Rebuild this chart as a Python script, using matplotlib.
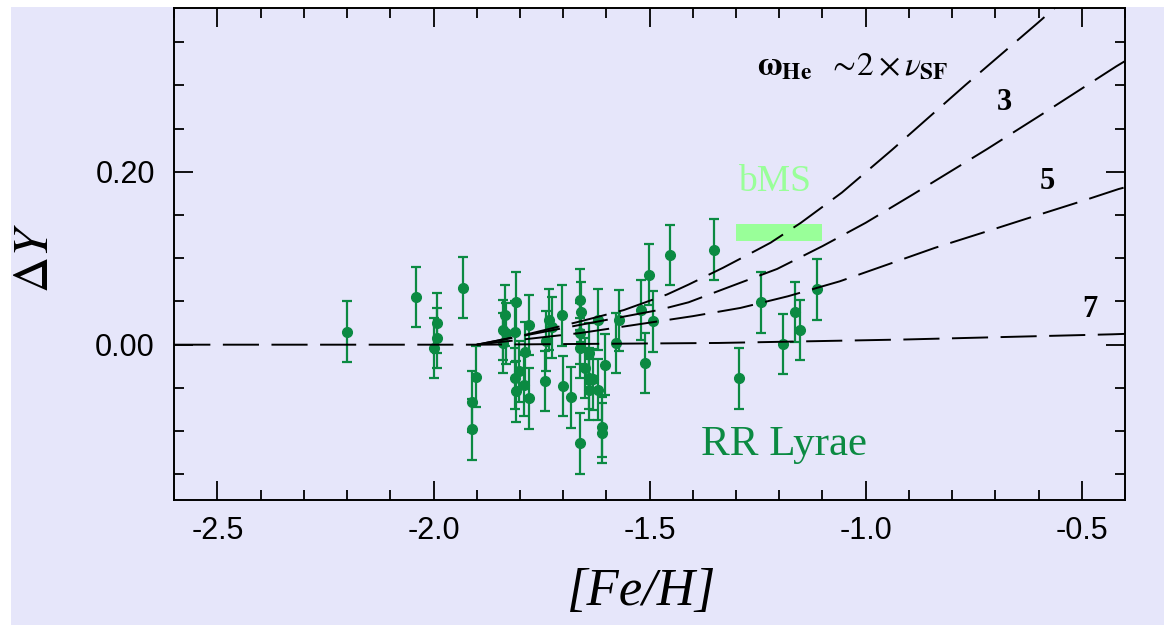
import matplotlib
matplotlib.use("Agg")
import matplotlib.pyplot as plt
from matplotlib.ticker import MultipleLocator, FormatStrFormatter
from matplotlib.patches import Rectangle

# RR Lyrae points: [Fe/H], Delta Y (error bars are all about 0.035)
feh = [-2.200, -2.040, -1.992, -1.992, -2.000, -1.931, -1.902, -1.911, -1.911,
       -1.840, -1.839, -1.832, -1.835, -1.809, -1.811, -1.780, -1.788, -1.802,
       -1.811, -1.809, -1.790, -1.780,
       -1.742, -1.732, -1.740, -1.702, -1.701, -1.725, -1.681,
       -1.660, -1.660, -1.660, -1.660, -1.658, -1.641, -1.641, -1.641, -1.620,
       -1.620, -1.610, -1.610, -1.603, -1.650, -1.632, -1.578, -1.571,
       -1.520, -1.501, -1.492, -1.511, -1.453, -1.351, -1.293, -1.243, -1.192,
       -1.163, -1.153, -1.113]
dy = [0.015, 0.055, 0.025, 0.008, -0.004, 0.066, -0.037, -0.066, -0.098,
      0.017, 0.002, 0.013, 0.034, 0.049, 0.015, 0.023, -0.009, -0.031,
      -0.039, -0.054, -0.047, -0.062,
      -0.042, 0.029, 0.004, 0.034, -0.048, 0.020, -0.061,
      0.052, 0.013, -0.004, -0.114, 0.038, -0.010, -0.039, -0.052, -0.052,
      0.029, -0.095, -0.102, -0.023, -0.027, -0.040, 0.002, 0.028,
      0.040, 0.081, 0.027, -0.021, 0.104, 0.110, -0.039, 0.049, 0.001,
      0.038, 0.017, 0.064]
dy_err = 0.035

# model curves, labelled by omega_He / nu_SF
c2_feh = [-1.90, -1.80, -1.66, -1.56, -1.46, -1.41, -1.33, -1.25, -1.22, -1.15,
          -1.055, -0.94, -0.77, -0.60, -0.55]
c2_dy = [0.0, 0.010, 0.027, 0.040, 0.058, 0.0695, 0.089, 0.110, 0.118, 0.141,
         0.176, 0.225, 0.300, 0.373, 0.395]
c3_feh = [-1.90, -1.66, -1.48, -1.41, -1.32, -1.205, -1.10, -1.00, -0.89,
          -0.79, -0.72, -0.60, -0.42, -0.40]
c3_dy = [0.0, 0.023, 0.040, 0.049, 0.066, 0.0876, 0.114, 0.141, 0.174,
         0.2046, 0.226, 0.264, 0.322, 0.328]
c5_feh = [-1.90, -1.66, -1.48, -1.40, -1.29, -1.18, -1.06, -0.95, -0.84,
          -0.72, -0.61, -0.50, -0.415, -0.40]
c5_dy = [0.0, 0.0135, 0.027, 0.033, 0.0425, 0.056, 0.0733, 0.0926, 0.112,
         0.131, 0.1486, 0.166, 0.180, 0.182]
c7_feh = [-2.60, -1.90, -1.34, -0.91, -0.43, -0.40]
c7_dy = [0.0, 0.0, 0.002, 0.006, 0.012, 0.0125]

# blue main sequence range
bms_feh = [-1.30, -1.10]
bms_dy = [0.12, 0.14]

lav = "#e6e6fa"
green = "#0b8a42"

plt.rcParams["lines.scale_dashes"] = False
plt.rcParams["mathtext.fontset"] = "stix"

fig = plt.figure(figsize=(11.64, 6.25), dpi=100)
fig.patch.set_facecolor("white")
fig.patches.append(Rectangle((11 / 1164, 0), 1, 618 / 625, transform=fig.transFigure,
                             facecolor=lav, edgecolor="none", zorder=-10))
ax = fig.add_axes([0.1497, 0.1995, 0.8168, 0.7885])
ax.set_facecolor(lav)

ax.errorbar(feh, dy, yerr=dy_err, fmt="o", color=green, ms=7, elinewidth=1.6,
            capsize=3.5, capthick=1.6, zorder=2)

ax.fill_between(bms_feh, bms_dy[0], bms_dy[1], color="#99ff99", lw=0, zorder=1)

for xs, ys in [(c2_feh, c2_dy), (c3_feh, c3_dy), (c5_feh, c5_dy), (c7_feh, c7_dy)]:
    ax.plot(xs, ys, color="black", lw=1.4, dashes=(26, 9), zorder=3)

ax.set_xlim(-2.6, -0.4)
ax.set_ylim(-0.18, 0.39)

ax.text(-1.21, 0.189, "bMS", color="#99ff99", fontsize=27,
        family="Liberation Serif", ha="center", va="center")
ax.text(-1.19, -0.116, "RR Lyrae", color=green, fontsize=31,
        family="Liberation Serif", ha="center", va="center")
ax.text(-1.252, 0.313, r"$\mathbf{\omega}_{\mathbf{He}}\ \ \sim\!2\times\nu_{\mathbf{SF}}$",
        fontsize=24, ha="left", va="baseline")
for lab, x, y in [("3", -0.679, 0.280), ("5", -0.580, 0.189), ("7", -0.481, 0.0405)]:
    ax.text(x, y, lab, fontsize=22, fontweight="bold", family="Liberation Serif",
            ha="center", va="center")

ax.xaxis.set_major_locator(MultipleLocator(0.5))
ax.xaxis.set_minor_locator(MultipleLocator(0.1))
ax.yaxis.set_major_locator(MultipleLocator(0.2))
ax.yaxis.set_minor_locator(MultipleLocator(0.05))
ax.xaxis.set_major_formatter(FormatStrFormatter("%.1f"))
ax.yaxis.set_major_formatter(FormatStrFormatter("%.2f"))
ax.tick_params(which="both", direction="in", top=True, right=True, width=1.3)
ax.tick_params(which="major", length=14)
ax.tick_params(which="minor", length=7)
ax.tick_params(axis="x", pad=11, labelsize=22)
ax.tick_params(axis="y", pad=14, labelsize=22)
for lab in ax.get_xticklabels() + ax.get_yticklabels():
    lab.set_family("Liberation Sans")
for sp in ax.spines.values():
    sp.set_linewidth(1.4)

ax.set_xlabel("[Fe/H]", fontsize=38, family="Liberation Serif", style="italic")
ax.xaxis.set_label_coords(0.492, -0.186)
ax.xaxis.label.set_va("center")
ax.set_ylabel(r"$\Delta Y$", fontsize=36)
ax.yaxis.set_label_coords(-0.1476, 0.4917)
ax.yaxis.label.set_va("center")

fig.savefig("out.png", dpi=100, facecolor=fig.get_facecolor())
